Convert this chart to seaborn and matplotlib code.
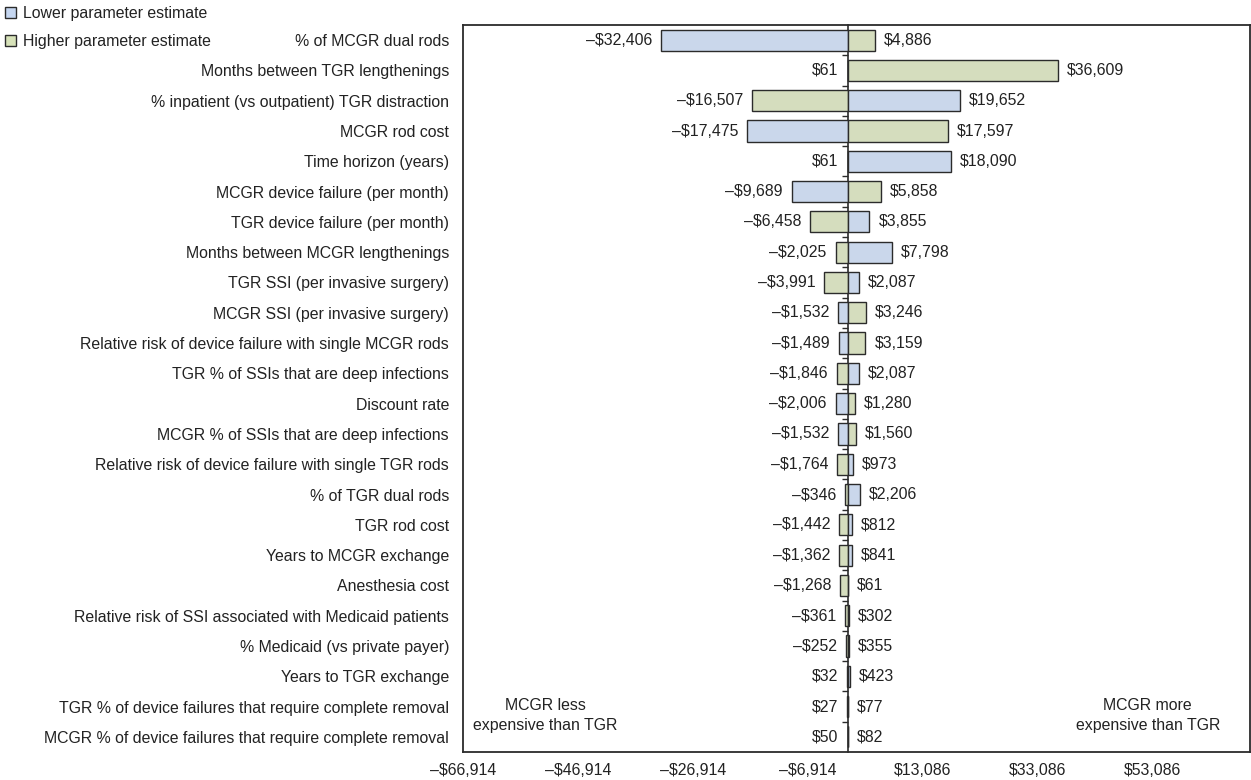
import matplotlib
matplotlib.use("Agg")
import matplotlib.pyplot as plt
from matplotlib.patches import Patch
import seaborn as sns
import pandas as pd
import numpy as np

params = [
    "% of MCGR dual rods",
    "Months between TGR lengthenings",
    "% inpatient (vs outpatient) TGR distraction",
    "MCGR rod cost",
    "Time horizon (years)",
    "MCGR device failure (per month)",
    "TGR device failure (per month)",
    "Months between MCGR lengthenings",
    "TGR SSI (per invasive surgery)",
    "MCGR SSI (per invasive surgery)",
    "Relative risk of device failure with single MCGR rods",
    "TGR % of SSIs that are deep infections",
    "Discount rate",
    "MCGR % of SSIs that are deep infections",
    "Relative risk of device failure with single TGR rods",
    "% of TGR dual rods",
    "TGR rod cost",
    "Years to MCGR exchange",
    "Anesthesia cost",
    "Relative risk of SSI associated with Medicaid patients",
    "% Medicaid (vs private payer)",
    "Years to TGR exchange",
    "TGR % of device failures that require complete removal",
    "MCGR % of device failures that require complete removal",
]
left_vals = [-32406, 61, -16507, -17475, 61, -9689, -6458, -2025, -3991, -1532,
             -1489, -1846, -2006, -1532, -1764, -346, -1442, -1362, -1268, -361,
             -252, 32, 27, 50]
right_vals = [4886, 36609, 19652, 17597, 18090, 5858, 3855, 7798, 2087, 3246,
              3159, 2087, 1280, 1560, 973, 2206, 812, 841, 61, 302,
              355, 423, 77, 82]
left_est = ["Lower", "Lower", "Higher", "Lower", "Higher", "Lower", "Higher", "Higher",
            "Higher", "Lower", "Lower", "Higher", "Lower", "Lower", "Higher", "Higher",
            "Higher", "Higher", "Higher", "Higher", "Higher", "Higher", "Higher", "Higher"]
right_est = ["Higher" if e == "Lower" else "Lower" for e in left_est]
base_value = 61
tick_values = [-66914, -46914, -26914, -6914, 13086, 33086, 53086]
legend_labels = ["Lower parameter estimate", "Higher parameter estimate"]

BLUE = "#c5d6f0"
GREEN = "#d7e2b9"
EDGE = "#2b2b2b"
TXT = "#222222"
FS = 11.4

sns.set_theme(style="white")
plt.rcParams["font.family"] = ["Liberation Sans", "DejaVu Sans"]

fig = plt.figure(figsize=(12.51, 7.80), dpi=100)
ax = fig.add_axes([463 / 1251, 28 / 780, 787 / 1251, 727 / 780])

df_left = pd.DataFrame({"param": params, "delta": np.array(left_vals) - base_value, "est": left_est})
df_right = pd.DataFrame({"param": params, "delta": np.array(right_vals) - base_value, "est": right_est})
pal = {"Lower": BLUE, "Higher": GREEN}
for d in (df_left, df_right):
    sns.barplot(data=d, y="param", x="delta", hue="est", hue_order=["Lower", "Higher"],
                order=params, palette=pal, dodge=False, orient="h", errorbar=None,
                width=0.7, edgecolor=EDGE, linewidth=1.0, legend=False, ax=ax)

def fmt(v):
    return ("\u2013" if v < 0 else "") + "${:,}".format(abs(v))

for i, (lv, rv) in enumerate(zip(left_vals, right_vals)):
    ax.annotate(fmt(lv), (min(lv - base_value, 0), i), xytext=(-9, 0), textcoords="offset pixels",
                ha="right", va="center", fontsize=FS, color=TXT)
    ax.annotate(fmt(rv), (max(rv - base_value, 0), i), xytext=(9, 0), textcoords="offset pixels",
                ha="left", va="center", fontsize=FS, color=TXT)

ax.set_xlim(-66740 - base_value, 70120 - base_value)
ax.set_ylim(len(params) - 0.5, -0.5)
ax.set_xticks([t - base_value for t in tick_values])
ax.set_xticklabels([fmt(t) for t in tick_values])
ax.tick_params(axis="x", length=0, pad=8, labelsize=FS, labelcolor=TXT)
ax.tick_params(axis="y", length=0, pad=10, labelsize=FS, labelcolor=TXT)
ax.set_xlabel("")
ax.set_ylabel("")
for s in ax.spines.values():
    s.set_visible(True)
    s.set_color(EDGE)
    s.set_linewidth(1.3)

# center line with small ticks at row boundaries
x0, x1 = ax.get_xlim()
frac = (0 - x0) / (x1 - x0)
sec = ax.secondary_yaxis(frac)
sec.set_yticks(np.arange(len(params) - 1) + 0.5)
sec.set_yticklabels([])
sec.tick_params(axis="y", length=4, width=1.0, color=EDGE, direction="out")
sec.spines["left"].set_color(EDGE)
sec.spines["left"].set_linewidth(1.2)

ax.text(0.105, 0.050, "MCGR less\nexpensive than TGR", transform=ax.transAxes,
        ha="center", va="center", fontsize=FS, color=TXT, linespacing=1.4)
ax.text(0.870, 0.050, "MCGR more\nexpensive than TGR", transform=ax.transAxes,
        ha="center", va="center", fontsize=FS, color=TXT, linespacing=1.4)

handles = [Patch(facecolor=BLUE, edgecolor=EDGE, linewidth=1.0),
           Patch(facecolor=GREEN, edgecolor=EDGE, linewidth=1.0)]
fig.legend(handles, legend_labels, loc="upper left", bbox_to_anchor=(-0.004, 1.005),
           frameon=False, handlelength=0.7, handleheight=0.7, handletextpad=0.45,
           labelspacing=0.78, fontsize=FS, borderaxespad=0.25, labelcolor=TXT)

fig.savefig("out.png", dpi=100)
